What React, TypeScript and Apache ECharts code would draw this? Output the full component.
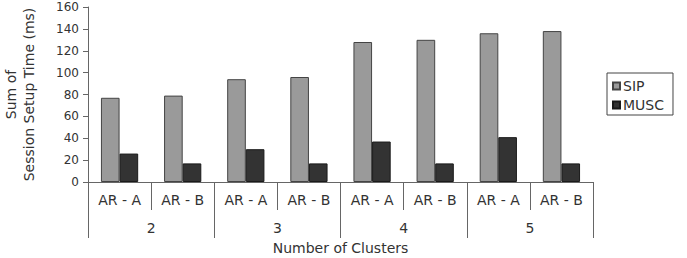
import React, { useEffect, useRef } from "react";
import * as echarts from "echarts";

const subCategories = ["AR - A", "AR - B", "AR - A", "AR - B", "AR - A", "AR - B", "AR - A", "AR - B"];
const clusterLabels = ["2", "3", "4", "5"];
const sipValues = [77, 79, 94, 96, 128, 130, 136, 138];
const muscValues = [26, 17, 30, 17, 37, 17, 41, 17];
const yTicks = { min: 0, max: 160, interval: 20 };

const FONT = "DejaVu Sans";
const TEXT = "#333";
const AXIS = "#666";

export default function App() {
  const ref = useRef<HTMLDivElement>(null);
  useEffect(() => {
    if (!ref.current) return;
    const chart = echarts.init(ref.current, undefined, { renderer: "svg" });
    chart.setOption({
      animation: false,
      backgroundColor: "#fff",
      textStyle: { fontFamily: FONT, color: TEXT },
      grid: { left: 88, right: 94, top: 7, bottom: 76, containLabel: false, outerBoundsMode: "none" },
      legend: {
        orient: "vertical",
        left: 607,
        top: 73,
        padding: [6, 9, 3, 5],
        icon: "rect",
        itemWidth: 7,
        itemHeight: 7,
        itemGap: 5,
        borderColor: "#444",
        borderWidth: 1,
        textStyle: { fontFamily: FONT, fontSize: 14, color: TEXT, padding: [0, 0, 0, -2] },
        data: ["SIP", "MUSC"],
      },
      xAxis: [
        {
          type: "category",
          data: subCategories,
          position: "bottom",
          axisLine: { show: true, lineStyle: { color: AXIS, width: 1 } },
          axisTick: { show: true, interval: 0, length: 28, lineStyle: { color: AXIS } },
          axisLabel: { interval: 0, margin: 11, fontFamily: FONT, fontSize: 14, color: TEXT },
        },
        {
          type: "category",
          data: clusterLabels,
          position: "bottom",
          offset: 28,
          axisLine: { show: false },
          axisTick: { show: true, interval: 0, length: 28, lineStyle: { color: AXIS } },
          axisLabel: { interval: 0, margin: 11, fontFamily: FONT, fontSize: 14, color: TEXT },
          name: "Number of Clusters",
          nameLocation: "middle",
          nameGap: 31,
          nameTextStyle: { fontFamily: FONT, fontSize: 14, color: TEXT },
        },
      ],
      yAxis: {
        type: "value",
        min: yTicks.min,
        max: yTicks.max,
        interval: yTicks.interval,
        axisLine: { show: true, lineStyle: { color: AXIS } },
        axisTick: { show: true, length: 5, lineStyle: { color: AXIS } },
        splitLine: { show: false },
        axisLabel: { margin: 9, fontFamily: FONT, fontSize: 12, color: TEXT },
        name: "Sum of\nSession Setup Time (ms)",
        nameLocation: "middle",
        nameGap: 50,
        nameTextStyle: { fontFamily: FONT, fontSize: 14, lineHeight: 18, color: "#333333", align: "center" },
      },
      series: [
        {
          name: "SIP",
          type: "bar",
          xAxisIndex: 0,
          data: sipValues,
          barGap: "0%",
          barCategoryGap: "41%",
          itemStyle: { color: "#9a9a9a", borderColor: "#444", borderWidth: 1 },
        },
        {
          name: "MUSC",
          type: "bar",
          xAxisIndex: 0,
          data: muscValues,
          barGap: "0%",
          barCategoryGap: "41%",
          itemStyle: { color: "#333", borderColor: "#1a1a1a", borderWidth: 1 },
        },
      ],
    });
    return () => chart.dispose();
  }, []);
  return (
    <div
      ref={ref}
      style={{ position: "fixed", left: 0, top: 0, width: 687, height: 258 }}
    />
  );
}
